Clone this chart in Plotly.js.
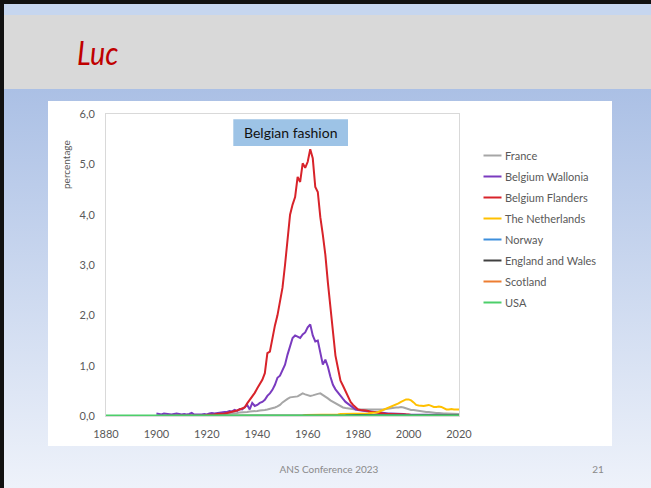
<!DOCTYPE html>
<html>
<head>
<meta charset="utf-8">
<script src="https://cdn.plot.ly/plotly-3.0.1.min.js"></script>
<style>
  html, body { margin: 0; padding: 0; }
  #slide { position: relative; width: 651px; height: 488px; overflow: hidden;
           background: linear-gradient(to bottom, #abc0e5 0px, #abc0e5 89px, #eef2fa 488px); }
  #topband { position: absolute; left: 0; top: 0; width: 651px; height: 15px; background: #c6d6ef; }
  #grayband { position: absolute; left: 0; top: 15px; width: 651px; height: 74px; background: #d9d9d9; }
  #frameTop { position: absolute; left: 0; top: 0; width: 651px; height: 4px; background: #111; }
  #frameLeft { position: absolute; left: 0; top: 0; width: 4px; height: 488px; background: #111; }
  #white { position: absolute; left: 48px; top: 101px; width: 564px; height: 345px; background: #fff; }
  #title { position: absolute; left: 77px; top: 33px; font-family: Lato, sans-serif; font-style: italic;
           font-size: 32px; color: #c00000; transform-origin: left top; transform: scaleX(0.9); }
  #footer { position: absolute; left: 229px; width: 200px; top: 463px; text-align: center;
            font-family: Lato, sans-serif; font-size: 10px; color: #8a8a8a; }
  #pagenum { position: absolute; left: 588px; width: 20px; top: 463px; text-align: center;
             font-family: Lato, sans-serif; font-size: 10px; color: #8a8a8a; }
  #plot { position: absolute; left: 0; top: 0; width: 651px; height: 488px; }
</style>
</head>
<body>
<div id="slide">
  <div id="topband"></div>
  <div id="grayband"></div>
  <div id="frameTop"></div>
  <div id="frameLeft"></div>
  <div id="white"></div>
  <div id="title">Luc</div>
  <div id="footer">ANS Conference 2023</div>
  <div id="pagenum">21</div>
  <div id="plot"></div>
</div>
<script>
// ---------- data ----------
const years = [
  1900,1901,1902,1903,1904,1905,1906,1907,1908,1909,
  1910,1911,1912,1913,1914,1915,1916,1917,1918,1919,
  1920,1921,1922,1923,1924,1925,1926,1927,1928,1929,
  1930,1931,1932,1933,1934,1935,1936,1937,1938,1939,
  1940,1941,1942,1943,1944,1945,1946,1947,1948,1949,
  1950,1951,1952,1953,1954,1955,1956,1957,1958,1959,
  1960,1961,1962,1963,1964,1965,1966,1967,1968,1969,
  1970,1971,1972,1973,1974,1975,1976,1977,1978,1979,
  1980,1981,1982,1983,1984,1985,1986,1987,1988,1989,
  1990,1991,1992,1993,1994,1995,1996,1997,1998,1999,
  2000,2001,2002,2003,2004,2005,2006,2007,2008,2009,
  2010,2011,2012,2013,2014,2015,2016,2017,2018,2019,2020];

const france = [
  0.01,0.01,0.01,0.01,0.01,0.01,0.01,0.01,0.01,0.01,
  0.01,0.01,0.01,0.01,0.01,0.01,0.01,0.01,0.01,0.01,
  0.02,0.02,0.02,0.02,0.02,0.03,0.03,0.04,0.04,0.05,
  0.05,0.06,0.06,0.07,0.07,0.08,0.08,0.09,0.09,0.10,
  0.10,0.11,0.11,0.12,0.13,0.14,0.15,0.17,0.19,0.22,
  0.27,0.31,0.34,0.37,0.38,0.39,0.39,0.42,0.45,0.43,
  0.41,0.40,0.41,0.43,0.44,0.45,0.42,0.38,0.35,0.31,
  0.28,0.25,0.22,0.19,0.17,0.16,0.15,0.14,0.14,0.13,
  0.13,0.13,0.12,0.12,0.12,0.12,0.12,0.12,0.13,0.13,
  0.13,0.14,0.15,0.15,0.16,0.17,0.17,0.18,0.17,0.15,
  0.13,0.12,0.12,0.11,0.11,0.10,0.09,0.08,0.08,0.07,
  0.07,0.06,0.06,0.05,0.05,0.05,0.05,0.04,0.04,0.04,0.04];

const wallonia = [
  0.05,0.04,0.03,0.05,0.04,0.03,0.03,0.04,0.05,0.04,
  0.03,0.04,0.03,0.04,0.06,0.03,0.03,0.02,0.03,0.04,
  0.03,0.05,0.06,0.05,0.06,0.06,0.07,0.08,0.08,0.10,
  0.09,0.12,0.10,0.14,0.13,0.18,0.22,0.13,0.26,0.20,
  0.22,0.26,0.28,0.32,0.40,0.45,0.52,0.62,0.76,0.80,
  0.90,1.02,1.22,1.38,1.55,1.60,1.57,1.55,1.62,1.66,
  1.76,1.82,1.60,1.48,1.50,1.25,1.02,1.12,0.98,0.78,
  0.62,0.53,0.46,0.40,0.34,0.28,0.24,0.20,0.16,0.13,
  0.12,0.11,0.11,0.10,0.09,0.09,0.08,0.08,0.07,0.07,
  0.06,0.06,0.05,0.05,0.05,0.05,0.04,0.04,0.04,0.03,
  0.03,0.03,0.03,0.03,0.03,0.02,0.02,0.02,0.02,0.02,
  0.02,0.02,0.02,0.02,0.02,0.02,0.02,0.01,0.01,0.01,0.01];

const flanders = [
  0.00,0.00,0.00,0.00,0.00,0.00,0.00,0.00,0.00,0.00,
  0.00,0.00,0.01,0.00,0.01,0.00,0.00,0.01,0.01,0.01,
  0.02,0.02,0.03,0.03,0.04,0.04,0.05,0.05,0.06,0.07,
  0.08,0.09,0.11,0.13,0.15,0.17,0.25,0.32,0.38,0.46,
  0.55,0.63,0.72,0.85,1.25,1.28,1.55,1.80,2.00,2.30,
  2.55,3.00,3.50,4.00,4.20,4.35,4.75,4.65,5.02,4.93,
  5.05,5.30,5.12,4.55,4.45,3.95,3.60,3.20,2.65,2.20,
  1.64,1.20,0.95,0.70,0.60,0.50,0.40,0.28,0.22,0.17,
  0.13,0.12,0.12,0.11,0.10,0.08,0.08,0.07,0.06,0.06,
  0.05,0.04,0.04,0.04,0.03,0.03,0.03,0.03,0.03,0.03,
  0.03,0.02,0.02,0.02,0.02,0.02,0.02,0.02,0.02,0.02,
  0.02,0.02,0.01,0.01,0.01,0.01,0.01,0.01,0.01,0.01,0.01];

const netherlands = [
  0.00,0.00,0.00,0.00,0.00,0.00,0.00,0.00,0.00,0.00,
  0.00,0.00,0.00,0.00,0.00,0.00,0.00,0.00,0.00,0.00,
  0.00,0.00,0.00,0.00,0.00,0.00,0.00,0.00,0.00,0.00,
  0.00,0.00,0.00,0.00,0.00,0.00,0.00,0.00,0.00,0.00,
  0.00,0.00,0.00,0.00,0.00,0.00,0.00,0.00,0.01,0.01,
  0.01,0.01,0.01,0.01,0.01,0.01,0.01,0.01,0.01,0.02,
  0.02,0.02,0.02,0.02,0.02,0.03,0.03,0.03,0.03,0.03,
  0.03,0.03,0.03,0.04,0.04,0.04,0.04,0.04,0.04,0.05,
  0.05,0.05,0.05,0.05,0.05,0.06,0.06,0.07,0.08,0.10,
  0.12,0.14,0.16,0.18,0.20,0.22,0.25,0.28,0.31,0.33,
  0.33,0.31,0.27,0.22,0.21,0.20,0.20,0.21,0.22,0.20,
  0.18,0.18,0.19,0.18,0.16,0.13,0.13,0.14,0.13,0.13,0.13];

const minorYears = [1900,1905,1910,1915,1920,1925,1930,1935,1940,1945,1950,1955,1960,
                    1965,1970,1975,1980,1985,1990,1995,2000,2005,2010,2015,2020];
const norway   = [0.00,0.00,0.00,0.00,0.00,0.00,0.00,0.00,0.00,0.00,0.00,0.00,0.00,
                  0.01,0.01,0.01,0.02,0.02,0.02,0.02,0.01,0.01,0.01,0.01,0.01];
const england  = [0.00,0.00,0.00,0.00,0.00,0.00,0.00,0.00,0.00,0.00,0.00,0.00,0.01,
                  0.01,0.01,0.01,0.02,0.01,0.01,0.01,0.01,0.01,0.01,0.01,0.01];
const scotland = [0.00,0.00,0.00,0.00,0.00,0.00,0.00,0.00,0.00,0.00,0.00,0.00,0.00,
                  0.00,0.01,0.01,0.01,0.01,0.01,0.01,0.01,0.01,0.01,0.00,0.00];

const usaYears = [1880,1885,1890,1895,1900,1905,1910,1915,1920,1925,1930,1935,1940,1945,1950,
                  1955,1960,1965,1970,1975,1980,1985,1990,1995,2000,2005,2010,2015,2020];
const usa      = [0.01,0.01,0.01,0.01,0.01,0.01,0.01,0.01,0.01,0.01,0.01,0.01,0.01,0.01,0.01,
                  0.01,0.01,0.01,0.01,0.01,0.01,0.01,0.01,0.01,0.01,0.01,0.01,0.01,0.01];

const seriesNames = ["France","Belgium Wallonia","Belgium Flanders","The Netherlands",
                     "Norway","England and Wales","Scotland","USA"];
const seriesColors = ["#a6a6a6","#7a3bbf","#d8232a","#ffc000","#3d8fdc","#404040","#ed7d31","#4ccf6a"];

const xTicks = [1880,1900,1920,1940,1960,1980,2000,2020];
const yTicks = [0,1,2,3,4,5,6];
const yTickLabels = ["0,0","1,0","2,0","3,0","4,0","5,0","6,0"];
const yTitle = "percentage";
const boxLabel = "Belgian fashion";

// ---------- chart ----------
const xs = [years, years, years, years, minorYears, minorYears, minorYears, usaYears];
const ys = [france, wallonia, flanders, netherlands, norway, england, scotland, usa];

const traces = seriesNames.map((n, i) => ({
  type: 'scatter', mode: 'lines', name: n, x: xs[i], y: ys[i],
  line: {color: seriesColors[i], width: 2}, hoverinfo: 'skip', showlegend: false
}));

// plot area in pixels: x 106..459, y 114..416
const L = 106, R = 459, T = 114, B = 416;
const px = v => (v - L) / (R - L);
const py = v => (B - v) / (B - T);

const shapes = [
  {type:'rect', xref:'paper', yref:'paper', x0: px(233.3), x1: px(348), y0: py(146), y1: py(119.3),
   fillcolor:'#9dc3e6', line:{width:0}}
];
const annotations = [
  {xref:'paper', yref:'paper', x: px(290.7), y: py(132.7), text: boxLabel, showarrow:false,
   xanchor:'center', yanchor:'middle', font:{family:'Lato, sans-serif', size:14, color:'#111'}},
  {xref:'paper', yref:'paper', x: px(66), y: py(165), text: yTitle, showarrow:false, textangle:-90,
   xanchor:'center', yanchor:'middle', font:{family:'Lato, sans-serif', size:10, color:'#595959'}}
];
seriesNames.forEach((n, i) => {
  const yy = 155.5 + 21 * i;
  shapes.push({type:'line', xref:'paper', yref:'paper', x0: px(483.5), x1: px(501.5), y0: py(yy), y1: py(yy),
               line:{color: seriesColors[i], width: 2}});
  annotations.push({xref:'paper', yref:'paper', x: px(503), y: py(yy), text: n, showarrow:false,
                    xanchor:'left', yanchor:'middle', font:{family:'Lato, sans-serif', size:11, color:'#595959'}});
});

const layout = {
  width: 651, height: 488, autosize: false,
  margin: {l: L, r: 651 - R, t: T, b: 488 - B, pad: 0},
  paper_bgcolor: 'rgba(0,0,0,0)', plot_bgcolor: '#ffffff',
  showlegend: false,
  font: {family: 'Lato, sans-serif', color: '#595959', size: 11},
  xaxis: {range: [1880, 2020], tickvals: xTicks, ticks: '', showgrid: false, zeroline: false,
          showline: true, mirror: true, linecolor: '#d9d9d9', linewidth: 1,
          tickfont: {size: 11, color: '#595959'}, ticklabelstandoff: 8, fixedrange: true},
  yaxis: {range: [0, 6], tickvals: yTicks, ticktext: yTickLabels, ticks: '', showgrid: false, zeroline: false,
          showline: true, mirror: true, linecolor: '#d9d9d9', linewidth: 1,
          tickfont: {size: 11, color: '#595959'}, ticklabelstandoff: 8, fixedrange: true},
  shapes: shapes, annotations: annotations
};

Plotly.newPlot('plot', traces, layout, {displayModeBar: false, staticPlot: true});
</script>
</body>
</html>
